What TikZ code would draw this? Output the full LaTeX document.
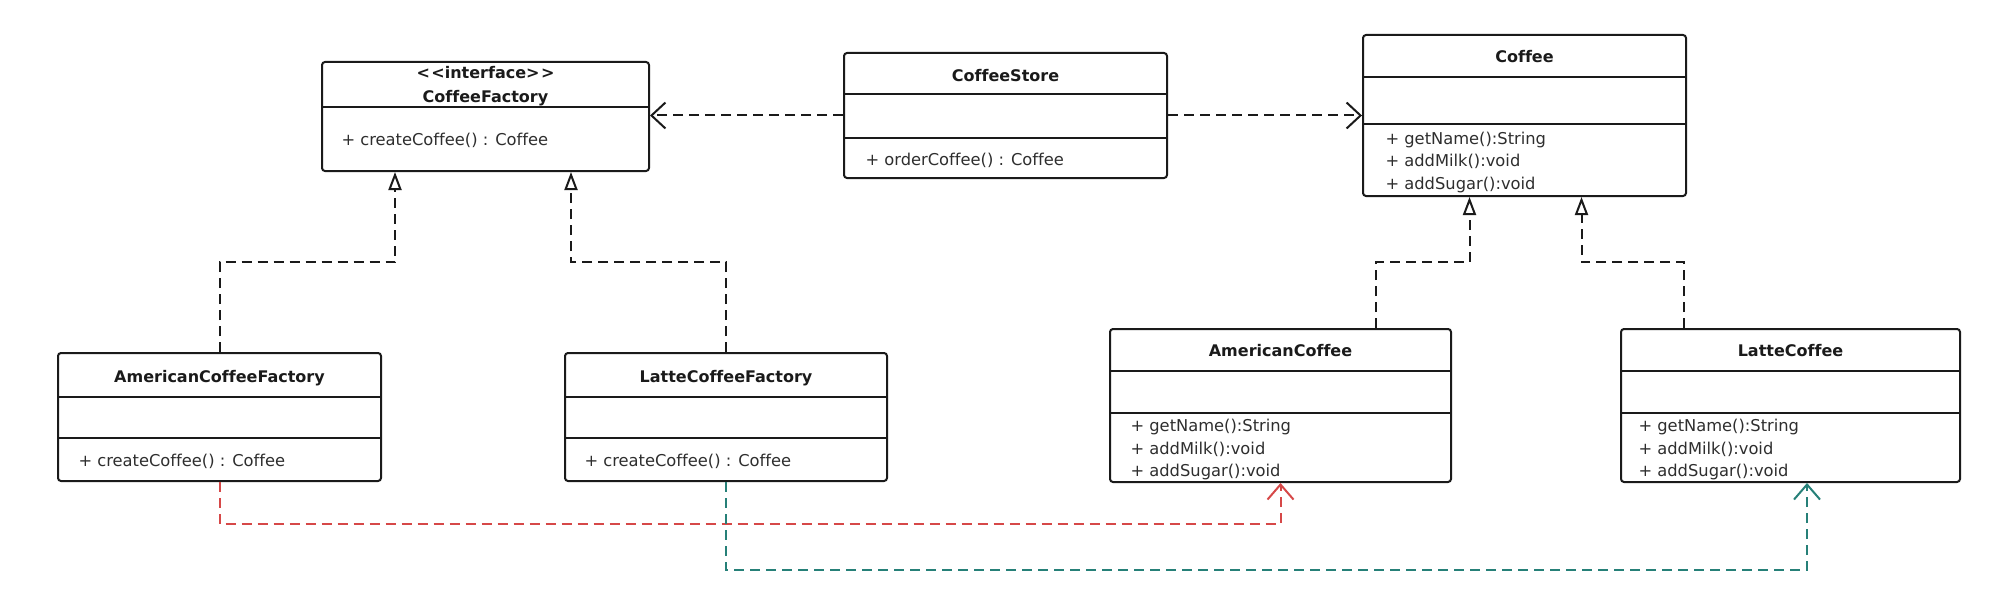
\documentclass[tikz,border=0pt]{standalone}
\usepackage{fontspec}
\setmainfont[Ligatures=NoCommon]{DejaVu Sans}
\usetikzlibrary{arrows.meta,calc}
\definecolor{redc}{RGB}{214,72,72}
\definecolor{tealc}{RGB}{38,128,120}
\definecolor{ink}{RGB}{26,26,26}
\begin{document}
\begin{tikzpicture}[x=1pt,y=-1pt,
  cls/.style={draw=ink, line width=2pt, rounded corners=3pt, inner sep=0pt, fill=white},
  div/.style={draw=ink, line width=2pt},
  ttl/.style={font=\fontsize{16}{19}\selectfont\bfseries, anchor=base, text=ink},
  mth/.style={font=\fontsize{16.3}{19}\selectfont, anchor=base west, text=black!82},
  dash16/.style={line width=2pt, dash pattern=on 10pt off 6pt},
  dep/.style={dash16, draw=ink, -{Straight Barb[length=14pt,width=26pt]}},
  real/.style={dash16, draw=ink, -{Triangle[open,length=18pt,width=13pt,fill=white]}},
  depred/.style={dash16, draw=redc, -{Straight Barb[length=15pt,width=26pt]}},
  depteal/.style={dash16, draw=tealc, -{Straight Barb[length=15pt,width=26pt]}}]
\useasboundingbox (0,0) rectangle (2009,591);

% --- class boxes ---
\node[cls, minimum width=327pt, minimum height=109pt] (cf) at (485.5,116.5) {};
\node[cls, minimum width=323pt, minimum height=125pt] (cs) at (1005.5,115.5) {};
\node[cls, minimum width=323pt, minimum height=161pt] (coffee) at (1524.5,115.5) {};
\node[cls, minimum width=323pt, minimum height=128pt] (acf) at (219.5,417) {};
\node[cls, minimum width=322pt, minimum height=128pt] (lcf) at (726,417) {};
\node[cls, minimum width=341pt, minimum height=153pt] (ac) at (1280.5,405.5) {};
\node[cls, minimum width=339pt, minimum height=153pt] (lc) at (1790.5,405.5) {};

% --- dividers ---
\draw[div] (cf.west |- 0,107) -- (cf.east |- 0,107);
\draw[div] (cs.west |- 0,94) -- (cs.east |- 0,94);
\draw[div] (cs.west |- 0,138) -- (cs.east |- 0,138);
\draw[div] (coffee.west |- 0,77) -- (coffee.east |- 0,77);
\draw[div] (coffee.west |- 0,124) -- (coffee.east |- 0,124);
\draw[div] (acf.west |- 0,397) -- (acf.east |- 0,397);
\draw[div] (acf.west |- 0,438) -- (acf.east |- 0,438);
\draw[div] (lcf.west |- 0,397) -- (lcf.east |- 0,397);
\draw[div] (lcf.west |- 0,438) -- (lcf.east |- 0,438);
\draw[div] (ac.west |- 0,371) -- (ac.east |- 0,371);
\draw[div] (ac.west |- 0,413) -- (ac.east |- 0,413);
\draw[div] (lc.west |- 0,371) -- (lc.east |- 0,371);
\draw[div] (lc.west |- 0,413) -- (lc.east |- 0,413);

% --- texts ---
\node[ttl] (cft1) at (cf.north |- 0,79) {{<}\kern1.5pt{<}interface{>}\kern1.5pt{>}};
\node[ttl] (cft2) at (cf.north |- 0,102.5) {CoffeeFactory};
\node[mth] (cfm) at (338,146) {+ createCoffee() : Coffee};

\node[ttl] (cst) at (cs.north |- 0,81.5) {CoffeeStore};
\node[mth] (csm) at (862,165) {+ orderCoffee() : Coffee};

\node[ttl] (cot) at (coffee.north |- 0,62.5) {Coffee};
\node[mth] (com1) at (1382,144) {+ getName():String};
\node[mth] (com2) at (1382,166.5) {+ addMilk():void};
\node[mth] (com3) at (1382,189) {+ addSugar():void};

\node[ttl] (acft) at (acf.north |- 0,382.5) {AmericanCoffeeFactory};
\node[mth] (acfm) at (75,466.5) {+ createCoffee() : Coffee};

\node[ttl] (lcft) at (lcf.north |- 0,382.5) {LatteCoffeeFactory};
\node[mth] (lcfm) at (581,466.5) {+ createCoffee() : Coffee};

\node[ttl] (act) at (ac.north |- 0,356.5) {AmericanCoffee};
\node[mth] (acm1) at (1127,431.5) {+ getName():String};
\node[mth] (acm2) at (1127,454) {+ addMilk():void};
\node[mth] (acm3) at (1127,476) {+ addSugar():void};

\node[ttl] (lct) at (lc.north |- 0,356.5) {LatteCoffee};
\node[mth] (lcm1) at (1635,431.5) {+ getName():String};
\node[mth] (lcm2) at (1635,454) {+ addMilk():void};
\node[mth] (lcm3) at (1635,476) {+ addSugar():void};

% --- dependencies of CoffeeStore ---
\draw[dep] (cs.west) -- (cs.west -| cf.east);
\draw[dep] (cs.east) -- (cs.east -| coffee.west);

% --- realizations ---
\draw[real] (acf.north) -- ++(0,-90) -| ($(cf.south)+(-90.5,0)$);
\draw[real] (lcf.north) -- ++(0,-90) -| ($(cf.south)+(85.5,0)$);
\draw[real] ($(ac.north)+(95.5,0)$) -- ++(0,-66) -| ($(coffee.south)+(-55,0)$);
\draw[real] ($(lc.north)+(-106.5,0)$) -- ++(0,-66) -| ($(coffee.south)+(57,0)$);

% --- factory creates coffee ---
\draw[depred] (acf.south) -- ++(0,42) -| (ac.south);
\draw[depteal] (lcf.south) -- ++(0,88) -| ($(lc.south)+(16.5,0)$);
\end{tikzpicture}
\end{document}
